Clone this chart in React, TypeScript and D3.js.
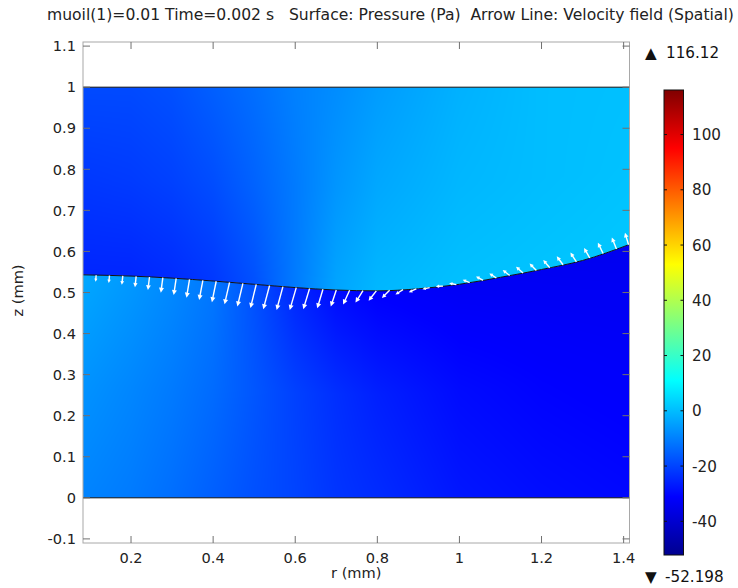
import React, { useMemo } from "react";
import * as d3 from "d3";

const W = 738;
const H = 588;
const FONT = "'DejaVu Sans', 'Liberation Sans', sans-serif";

const TITLE = "muoil(1)=0.01 Time=0.002 s   Surface: Pressure (Pa)  Arrow Line: Velocity field (Spatial)";
const X_LABEL = "r (mm)";
const Y_LABEL = "z (mm)";

const R_DOMAIN = [0.083, 1.4143];
const Z_DOMAIN = [-0.11, 1.11];
const R_TICKS = [0.2, 0.4, 0.6, 0.8, 1, 1.2, 1.4];
const R_TICK_LABELS = ["0.2", "0.4", "0.6", "0.8", "1", "1.2", "1.4"];
const Z_TICKS = [-0.1, 0, 0.1, 0.2, 0.3, 0.4, 0.5, 0.6, 0.7, 0.8, 0.9, 1, 1.1];
const Z_TICK_LABELS = ["-0.1", "0", "0.1", "0.2", "0.3", "0.4", "0.5", "0.6", "0.7", "0.8", "0.9", "1", "1.1"];

const P_MIN = -52.198;
const P_MAX = 116.12;
const CBAR_TICKS = [-40, -20, 0, 20, 40, 60, 80, 100];
const JET_POS = [0, 0.125, 0.375, 0.625, 0.875, 1];
const JET_COLORS = ["#00008f", "#0000ff", "#00ffff", "#ffff00", "#ff0000", "#800000"];

// domain geometry (mm)
const Z_BOTTOM = 0;
const Z_TOP = 1;
const IFACE_R = [0.083, 0.2, 0.3, 0.4, 0.5, 0.6, 0.7, 0.8, 0.9, 1.0, 1.1, 1.2, 1.3, 1.4143];
const IFACE_Z = [0.543, 0.540, 0.535, 0.528, 0.520, 0.512, 0.506, 0.504, 0.509, 0.520, 0.537, 0.556, 0.578, 0.617];

// pressure field samples (Pa)
const FIELD_R = [0.083, 0.2, 0.3, 0.4, 0.5, 0.6, 0.7, 0.8, 1.0, 1.2, 1.4143];
// lower fluid: rows at fraction of height from bottom (0) to interface (1)
const LOWER_FRAC = [0, 0.5, 1];
const LOWER_BOTTOM = [-9.5, -11, -13, -15.5, -18, -20, -22.5, -24, -27.5, -29, -30];
const LOWER_MID = [-7, -9, -11, -13.5, -17, -20.5, -23.5, -26, -29.5, -31, -32];
const LOWER_IFACE = [-3.5, -6, -8.5, -11.5, -18, -25, -29.5, -31.5, -33, -33.5, -34];
// upper fluid: rows at fraction from interface (0) to top (1)
const UPPER_FRAC = [0, 0.5, 1];
const UPPER_IFACE = [-25, -25, -24, -22, -18, -11, -4, -1, 0.5, 1, 1.5];
const UPPER_MID = [-22, -21.5, -20.5, -18.5, -15, -11, -6.5, -3.5, -1, 0, 0.8];
const UPPER_TOP = [-19, -19, -18, -15.5, -13, -10, -8, -5.5, -2, 0, 0.5];

// velocity arrows along the interface (r position, r-component, z-component; arbitrary units)
const ARROW_R = [0.115, 0.1475, 0.18, 0.2125, 0.245, 0.2775, 0.31, 0.3425, 0.375, 0.4075,
  0.44, 0.4725, 0.505, 0.5375, 0.57, 0.6025, 0.635, 0.6675, 0.7, 0.7325,
  0.765, 0.7975, 0.83, 0.8625, 0.895, 0.9275, 0.96, 0.9925, 1.025, 1.0575,
  1.09, 1.1225, 1.155, 1.1875, 1.22, 1.2525, 1.285, 1.3175, 1.35, 1.3825, 1.412];
const ARROW_U = [-0.5, -0.7, -1, -1.2, -1.6, -2, -2.5, -3, -3.7, -4.3,
  -5, -5.5, -5.8, -6.3, -6.3, -6.5, -6.3, -5.7, -5.5, -6.5,
  -7.5, -7.7, -7.7, -7.5, -7.5, -7.2, -7.2, -7.2, -7, -7,
  -7, -7, -7, -6.8, -6.5, -6.3, -6, -5.7, -5.2, -4.6, -3.6];
const ARROW_W = [-6.5, -7.5, -9, -11, -13, -15, -16.7, -18.3, -19.7, -21,
  -22, -23, -23.5, -23.7, -23.3, -22.3, -20.7, -19, -16.5, -14.3,
  -12, -10, -7.7, -5, -3.3, -1.7, -0.3, 1.4, 2.8, 3.8,
  4.6, 5.6, 6.3, 7, 7.7, 8.4, 9.2, 10, 10.7, 11.4, 12];
const ARROW_SCALE = 1 / 410.5; // mm per velocity unit

const PLOT = { left: 83, right: 629.5, top: 42, bottom: 543 };
const CBAR = { x: 664, y: 90, w: 19.5, h: 465 };

export default function App() {
  const x = d3.scaleLinear().domain(R_DOMAIN).range([PLOT.left, PLOT.right]);
  const y = d3.scaleLinear().domain(Z_DOMAIN).range([PLOT.bottom, PLOT.top]);
  const cy = d3.scaleLinear().domain([P_MIN, P_MAX]).range([CBAR.y + CBAR.h, CBAR.y]);
  const pColor = d3
    .scaleLinear<string>()
    .domain(JET_POS.map((t) => P_MIN + t * (P_MAX - P_MIN)))
    .range(JET_COLORS)
    .interpolate(d3.interpolateRgb)
    .clamp(true);
  const zIface = d3.scaleLinear().domain(IFACE_R).range(IFACE_Z).clamp(true);

  const images = useMemo(() => {
    const x0 = Math.floor(PLOT.left);
    const x1 = Math.ceil(PLOT.right);
    const y0 = Math.floor(y(Z_TOP)) - 1;
    const y1 = Math.ceil(y(Z_BOTTOM)) + 1;
    const w = x1 - x0;
    const h = y1 - y0;
    const N = 1024;
    const lut: number[][] = [];
    for (let i = 0; i < N; i++) {
      const v = P_MIN + (i / (N - 1)) * (P_MAX - P_MIN);
      const c = d3.rgb(pColor(v));
      lut.push([c.r, c.g, c.b]);
    }
    const make = (rows: number[][], fracs: number[], upper: boolean) => {
      const canvas = document.createElement("canvas");
      canvas.width = w;
      canvas.height = h;
      const ctx = canvas.getContext("2d");
      if (!ctx) return "";
      const img = ctx.createImageData(w, h);
      const rowScales = rows.map((vals) => d3.scaleLinear().domain(FIELD_R).range(vals).clamp(true));
      for (let i = 0; i < w; i++) {
        const r = x.invert(x0 + i + 0.5);
        const zi = zIface(r);
        const rv = rowScales.map((s) => s(r));
        const fs = d3.scaleLinear().domain(fracs).range(rv).clamp(true);
        for (let j = 0; j < h; j++) {
          const z = y.invert(y0 + j + 0.5);
          const f = upper ? (z - zi) / (Z_TOP - zi) : (z - Z_BOTTOM) / (zi - Z_BOTTOM);
          const v = fs(f);
          let k = Math.round(((v - P_MIN) / (P_MAX - P_MIN)) * (N - 1));
          k = Math.max(0, Math.min(N - 1, k));
          const c = lut[k];
          const p = (j * w + i) * 4;
          img.data[p] = c[0];
          img.data[p + 1] = c[1];
          img.data[p + 2] = c[2];
          img.data[p + 3] = 255;
        }
      }
      ctx.putImageData(img, 0, 0);
      return canvas.toDataURL();
    };
    return {
      x0, y0, w, h,
      lower: make([LOWER_BOTTOM, LOWER_MID, LOWER_IFACE], LOWER_FRAC, false),
      upper: make([UPPER_IFACE, UPPER_MID, UPPER_TOP], UPPER_FRAC, true),
    };
  }, []);

  const ifacePts: [number, number][] = IFACE_R.map((r, i) => [x(r), y(IFACE_Z[i])]);
  const ifacePath = d3.line().curve(d3.curveMonotoneX)(ifacePts) || "";
  const rMin = R_DOMAIN[0];
  const rMax = R_DOMAIN[1];
  const lowerPath = `${ifacePath}L${x(rMax)},${y(Z_BOTTOM)}L${x(rMin)},${y(Z_BOTTOM)}Z`;
  const upperPath = `${ifacePath}L${x(rMax)},${y(Z_TOP)}L${x(rMin)},${y(Z_TOP)}Z`;

  const gradStops = JET_POS.map((t, i) => ({ offset: `${t * 100}%`, color: JET_COLORS[i] }));

  const tickColor = "#707070";
  const tickLen = 7;
  const TICK_FS = 14.6;
  const CB_FS = 15.2;

  return (
    <svg width={W} height={H} viewBox={`0 0 ${W} ${H}`} style={{ display: "block", position: "absolute", left: 0, top: 0, background: "#fff" }}>
      <defs>
        <clipPath id="clipLower">
          <path d={lowerPath} />
        </clipPath>
        <clipPath id="clipUpper">
          <path d={upperPath} />
        </clipPath>
        <linearGradient id="jet" x1="0" y1="1" x2="0" y2="0">
          {gradStops.map((s, i) => (
            <stop key={i} offset={s.offset} stopColor={s.color} />
          ))}
        </linearGradient>
      </defs>

      <rect x={0} y={0} width={W} height={H} fill="#fff" />

      {/* title */}
      <text x={47} y={20} fontFamily={FONT} fontSize={15.6} fill="#222" style={{ whiteSpace: "pre" }}>
        {TITLE}
      </text>

      {/* surface */}
      <image href={images.lower} x={images.x0} y={images.y0} width={images.w} height={images.h} preserveAspectRatio="none" clipPath="url(#clipLower)" />
      <image href={images.upper} x={images.x0} y={images.y0} width={images.w} height={images.h} preserveAspectRatio="none" clipPath="url(#clipUpper)" />

      {/* domain boundaries */}
      <path d={ifacePath} fill="none" stroke="#111" strokeWidth={1} />
      <line x1={x(rMin)} x2={x(rMax)} y1={y(Z_TOP)} y2={y(Z_TOP)} stroke="#111" strokeWidth={1} />
      <line x1={x(rMin)} x2={x(rMax)} y1={y(Z_BOTTOM)} y2={y(Z_BOTTOM)} stroke="#111" strokeWidth={1} />

      {/* arrows */}
      {ARROW_R.map((r, i) => {
        const zt = zIface(r);
        const x1 = x(r);
        const y1 = y(zt);
        const x2 = x(r + ARROW_U[i] * ARROW_SCALE);
        const y2 = y(zt + ARROW_W[i] * ARROW_SCALE);
        const len = Math.hypot(x2 - x1, y2 - y1);
        const hl = Math.max(2.6, Math.min(5, 0.25 * len + 1.5));
        const hw = hl * 0.5;
        const ux = (x2 - x1) / len;
        const uy = (y2 - y1) / len;
        const bx = x2 - ux * hl;
        const by = y2 - uy * hl;
        const head = `M${x2},${y2}L${bx - uy * hw},${by + ux * hw}L${bx + uy * hw},${by - ux * hw}Z`;
        return (
          <g key={i}>
            <line x1={x1} y1={y1} x2={bx + ux * 0.5} y2={by + uy * 0.5} stroke="#fff" strokeWidth={1.4} />
            <path d={head} fill="#fff" />
          </g>
        );
      })}

      {/* frame */}
      <rect x={PLOT.left} y={PLOT.top} width={PLOT.right - PLOT.left} height={PLOT.bottom - PLOT.top} fill="none" stroke="#a8a8a8" strokeWidth={1} />

      {/* ticks */}
      {R_TICKS.map((t, i) => (
        <g key={`rt${i}`}>
          <line x1={x(t)} x2={x(t)} y1={PLOT.bottom} y2={PLOT.bottom - tickLen} stroke={tickColor} strokeWidth={1} />
          <line x1={x(t)} x2={x(t)} y1={PLOT.top} y2={PLOT.top + tickLen} stroke={tickColor} strokeWidth={1} />
          <text x={x(t)} y={563} textAnchor="middle" fontFamily={FONT} fontSize={TICK_FS} fill="#222">
            {R_TICK_LABELS[i]}
          </text>
        </g>
      ))}
      {Z_TICKS.map((t, i) => (
        <g key={`zt${i}`}>
          <line x1={PLOT.left} x2={PLOT.left + tickLen} y1={y(t)} y2={y(t)} stroke={tickColor} strokeWidth={1} />
          <line x1={PLOT.right} x2={PLOT.right - tickLen} y1={y(t)} y2={y(t)} stroke={tickColor} strokeWidth={1} />
          <text x={76} y={y(t)} dy="0.36em" textAnchor="end" fontFamily={FONT} fontSize={TICK_FS} fill="#222">
            {Z_TICK_LABELS[i]}
          </text>
        </g>
      ))}

      {/* axis titles */}
      <text x={(PLOT.left + PLOT.right) / 2} y={578} textAnchor="middle" fontFamily={FONT} fontSize={TICK_FS} fill="#222">
        {X_LABEL}
      </text>
      <text
        transform={`translate(23,${(PLOT.top + PLOT.bottom) / 2 - 2}) rotate(-90)`}
        textAnchor="middle"
        fontFamily={FONT}
        fontSize={TICK_FS}
        fill="#222"
      >
        {Y_LABEL}
      </text>

      {/* colorbar */}
      <rect x={CBAR.x} y={CBAR.y} width={CBAR.w} height={CBAR.h} fill="url(#jet)" stroke="#111" strokeWidth={1} />
      {CBAR_TICKS.map((t, i) => (
        <g key={`ct${i}`}>
          <line x1={CBAR.x} x2={CBAR.x + 3} y1={cy(t)} y2={cy(t)} stroke="#111" strokeWidth={1} />
          <line x1={CBAR.x + CBAR.w} x2={CBAR.x + CBAR.w - 3} y1={cy(t)} y2={cy(t)} stroke="#111" strokeWidth={1} />
          <text x={692} y={cy(t)} dy="0.36em" fontFamily={FONT} fontSize={CB_FS} fill="#222">
            {String(t)}
          </text>
        </g>
      ))}
      <text x={645} y={58} fontFamily={FONT} fontSize={CB_FS} fill="#111">▲</text>
      <text x={666} y={58} fontFamily={FONT} fontSize={CB_FS} fill="#111">{String(P_MAX)}</text>
      <text x={645} y={582} fontFamily={FONT} fontSize={CB_FS} fill="#111">▼</text>
      <text x={665} y={582} fontFamily={FONT} fontSize={CB_FS} fill="#111">{String(P_MIN)}</text>
    </svg>
  );
}
